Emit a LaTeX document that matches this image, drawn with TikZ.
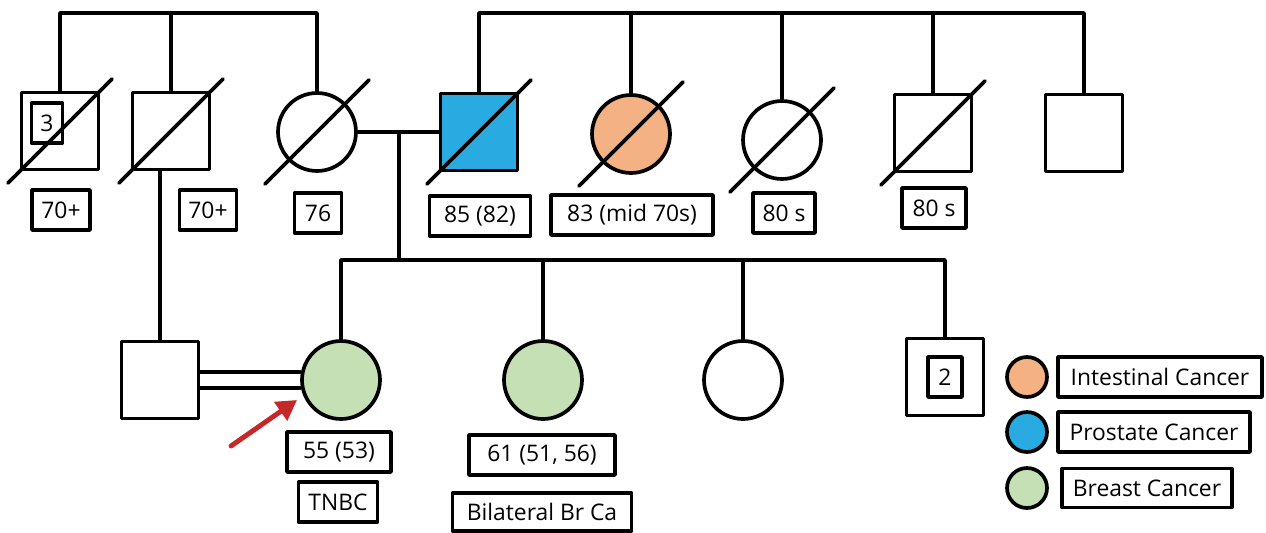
\documentclass[tikz,border=0pt]{standalone}
\usepackage{fontspec}
\setmainfont{Open Sans}
\usetikzlibrary{arrows.meta}

\definecolor{prostate}{HTML}{29ABE2}
\definecolor{intestinal}{HTML}{F4B183}
\definecolor{breast}{HTML}{C5E0B4}
\definecolor{pointred}{HTML}{C62828}

% slash through a deceased person
\newcommand{\deceased}[1]{\draw ([shift={(-52,52)}]#1.center) -- ([shift={(52,-52)}]#1.center);}

\begin{document}
\begin{tikzpicture}[line cap=round,line join=round,x=0.02cm,y=-0.02cm,line width=2.1pt,
  male/.style={draw,rectangle,minimum size=1.54cm,inner sep=0pt},
  female/.style={draw,circle,minimum size=1.56cm,inner sep=0pt},
  agebox/.style={draw,rectangle,minimum height=0.8cm,inner sep=0pt,font=\fontsize{13}{15}\selectfont},
  keydot/.style={draw,circle,minimum size=0.8cm,inner sep=0pt},
  pointer/.style={pointred,line width=2.8pt,-{Triangle[length=0.4cm,width=0.44cm]}}]
\useasboundingbox (0,0) rectangle (1266,533);
\coordinate (top) at (0,13);
\coordinate (sib) at (0,260);
% first generation
\node[male] (unc3) at (60,131) {};
\node[agebox,minimum width=0.62cm] (n3) at (47,123) {3};
\node[male] (uncA) at (171,131) {};
\node[female] (gma) at (317,132) {};
\node[male,fill=prostate] (gpa) at (479,132) {};
\node[female,fill=intestinal] (auntO) at (631,134) {};
\node[female] (auntW) at (782,140) {};
\node[male] (uncB) at (933,133) {};
\node[male] (uncC) at (1084,133) {};
\deceased{unc3}
\deceased{uncA}
\deceased{gma}
\deceased{gpa}
\deceased{auntO}
\deceased{auntW}
\deceased{uncB}
\draw (unc3.north) -- (unc3.north |- top) -| (gma.north);
\draw (uncA.north) -- (uncA.north |- top);
\draw (gpa.north) -- (gpa.north |- top) -| (uncC.north);
\draw (auntO.north) -- (auntO.north |- top);
\draw (auntW.north) -- (auntW.north |- top);
\draw (uncB.north) -- (uncB.north |- top);
\node[agebox,minimum width=1.16cm] (a1) at (61,210) {70+};
\node[agebox,minimum width=1.14cm] (a2) at (208,210) {70+};
\node[agebox,minimum width=0.94cm] (a3) at (318,213) {76};
\node[agebox,minimum width=2.02cm] (a4) at (480,216) {85 (82)};
\node[agebox,minimum width=3.24cm] (a5) at (632,215) {83 (mid 70s)};
\node[agebox,minimum width=1.24cm] (a6) at (784,213) {80 s};
\node[agebox,minimum width=1.28cm] (a7) at (934,208) {80 s};
% couple and children
\draw (gma.east) -- (gpa.west);
\coordinate (desc) at (399,132);
\draw (desc) -- (desc |- sib);
\node[male] (husb) at (160,380) {};
\node[female,fill=breast] (prob) at (341,380) {};
\node[female,fill=breast] (sis) at (543,380) {};
\node[female] (sisW) at (743,380) {};
\node[male] (bro) at (945,377) {};
\node[agebox,minimum width=0.68cm] (n2) at (945,377) {2};
\draw (prob.north) -- (prob.north |- sib) -| (bro.north);
\draw (sis.north) -- (sis.north |- sib);
\draw (sisW.north) -- (sisW.north |- sib);
\draw (husb.north) -- (husb.north |- uncA.south);
\draw ([shift={(0,-8)}]husb.east) -- ([shift={(0,-8)}]prob.west);
\draw ([shift={(0,8)}]husb.east) -- ([shift={(0,8)}]prob.west);
\coordinate (ptail) at (231,446);
\coordinate (ptip) at (297,400);
\draw[pointer] (ptail) -- (ptip);
\node[agebox,minimum width=2.08cm] (b1) at (339,452) {55 (53)};
\node[agebox,minimum width=1.58cm] (b2) at (338,502) {TNBC};
\node[agebox,minimum width=2.92cm] (b3) at (542,455) {61 (51, 56)};
\node[agebox,minimum width=3.58cm,minimum height=0.76cm] (b4) at (542,512) {Bilateral Br Ca};
% key
\node[keydot,fill=intestinal] (k1) at (1027,377) {};
\node[keydot,fill=prostate] (k2) at (1027,432) {};
\node[keydot,fill=breast] (k3) at (1027,488) {};
\node[agebox,minimum width=4.08cm] (t1) at (1160,377) {Intestinal Cancer};
\node[agebox,minimum width=3.84cm] (t2) at (1154,432) {Prostate Cancer};
\node[agebox,minimum width=3.40cm,minimum height=0.78cm] (t3) at (1147,488) {Breast Cancer};
\end{tikzpicture}
\end{document}
